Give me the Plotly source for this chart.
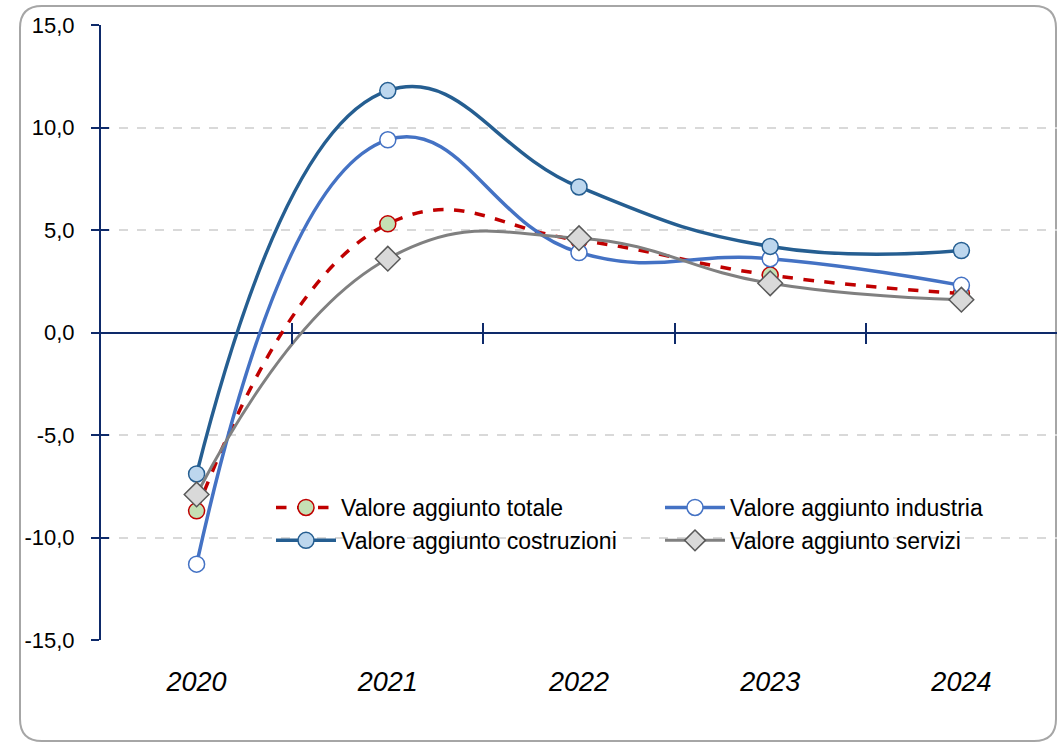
import plotly.graph_objects as go

years = ["2020", "2021", "2022", "2023", "2024"]
totale = [-8.7, 5.3, 4.5, 2.8, 1.9]
industria = [-11.3, 9.4, 3.9, 3.6, 2.3]
costruzioni = [-6.9, 11.8, 7.1, 4.2, 4.0]
servizi = [-7.9, 3.6, 4.6, 2.4, 1.6]
y_ticks = [-15, -10, -5, 0, 5, 10, 15]
y_labels = ["-15,0", "-10,0", "-5,0", "0,0", "5,0", "10,0", "15,0"]

W, H = 1058, 743
L, R, T, B = 101, 1, 25, 103
pw, ph = W - L - R, H - T - B
xs = list(range(len(years)))
NAVY = "#0E2A6A"
FONT = "Liberation Sans, Arial, sans-serif"

fig = go.Figure()
series = [
    ("Valore aggiunto totale", totale, dict(color="#C00000", width=3.5, dash="dash"),
     dict(symbol="circle", size=16, color="#C5E0B4", line=dict(color="#C00000", width=1.5))),
    ("Valore aggiunto industria", industria, dict(color="#4472C4", width=3.5),
     dict(symbol="circle", size=16, color="#FFFFFF", line=dict(color="#4472C4", width=1.5))),
    ("Valore aggiunto costruzioni", costruzioni, dict(color="#255E91", width=3.5),
     dict(symbol="circle", size=16, color="#BDD7EE", line=dict(color="#255E91", width=1.5))),
    ("Valore aggiunto servizi", servizi, dict(color="#808080", width=3),
     dict(symbol="diamond", size=19, color="#D9D9D9", line=dict(color="#595959", width=1.5))),
]
for name, vals, ln, mk in series:
    fig.add_trace(go.Scatter(
        x=xs, y=vals, name=name, mode="lines+markers",
        line=dict(shape="spline", smoothing=1.3, **ln), marker=mk,
    ))

# helper invisible traces so overlay axes get drawn
fig.add_trace(go.Scatter(x=[None], y=[None], xaxis="x2", yaxis="y", showlegend=False, hoverinfo="skip"))
fig.add_trace(go.Scatter(x=[None], y=[None], xaxis="x3", yaxis="y", showlegend=False, hoverinfo="skip"))
fig.add_trace(go.Scatter(x=[None], y=[None], xaxis="x", yaxis="y2", showlegend=False, hoverinfo="skip"))

xr = [-0.5, len(years) - 0.5]
yr = [-15, 15]
boundaries = [i + 0.5 for i in range(len(years) - 1)]

def px_x(p):
    return (p - L) / pw

def px_y(p):
    return (H - B - p) / ph

# rounded border
x0, x1, y0, y1 = px_x(20), px_x(1056), px_y(741), px_y(6)
rx, ry = 22 / pw, 22 / ph
path = (f"M {x0+rx},{y1} L {x1-rx},{y1} Q {x1},{y1} {x1},{y1-ry} "
        f"L {x1},{y0+ry} Q {x1},{y0} {x1-rx},{y0} L {x0+rx},{y0} "
        f"Q {x0},{y0} {x0},{y0+ry} L {x0},{y1-ry} Q {x0},{y1} {x0+rx},{y1} Z")

fig.update_layout(
    width=W, height=H, autosize=False,
    margin=dict(l=L, r=R, t=T, b=B, pad=0),
    paper_bgcolor="white", plot_bgcolor="white",
    font=dict(family=FONT, color="#000000", size=22),
    showlegend=True,
    legend=dict(
        orientation="h", x=px_x(271), y=px_y(486), xanchor="left", yanchor="top",
        entrywidth=314, entrywidthmode="pixels", itemwidth=60,
        font=dict(family=FONT, size=23, color="#000000"),
        bgcolor="rgba(0,0,0,0)", tracegroupgap=0, traceorder="normal",
    ),
    xaxis=dict(
        range=xr, tickvals=xs, ticktext=years, showgrid=False, zeroline=False,
        showline=False, ticks="",
        tickfont=dict(family=FONT, size=27, color="#000000", style="italic"),
        ticklabelstandoff=23,
    ),
    xaxis2=dict(
        overlaying="x", anchor="free", position=0.5, range=xr, tickvals=boundaries,
        ticks="outside", ticklen=10, tickwidth=2, tickcolor=NAVY, showticklabels=False,
        showgrid=False, zeroline=False, showline=False,
    ),
    xaxis3=dict(
        overlaying="x", anchor="free", position=0.5, range=xr, tickvals=boundaries,
        ticks="inside", ticklen=10, tickwidth=2, tickcolor=NAVY, showticklabels=False,
        showgrid=False, zeroline=False, showline=False,
    ),
    yaxis=dict(
        range=yr, tickvals=y_ticks, ticktext=y_labels, showgrid=True, griddash="dash",
        gridcolor="#D9D9D9", gridwidth=1.5, zeroline=True, zerolinecolor=NAVY, zerolinewidth=2,
        showline=True, linecolor=NAVY, linewidth=2, ticks="outside", ticklen=8, tickwidth=2,
        tickcolor=NAVY, tickfont=dict(family=FONT, size=22, color="#000000"),
        ticklabelstandoff=12,
    ),
    yaxis2=dict(
        overlaying="y", range=yr, tickvals=y_ticks, ticks="inside", ticklen=8, tickwidth=2,
        tickcolor=NAVY, showticklabels=False, showgrid=False, zeroline=False, showline=False,
    ),
    shapes=[dict(type="path", xref="paper", yref="paper", path=path,
                 line=dict(color="#A6A6A6", width=2), fillcolor="rgba(0,0,0,0)", layer="below")],
)

fig.write_html(
    "out.html",
    config={"responsive": False, "displayModeBar": False},
    post_script="document.body.style.margin='0px';",
)
